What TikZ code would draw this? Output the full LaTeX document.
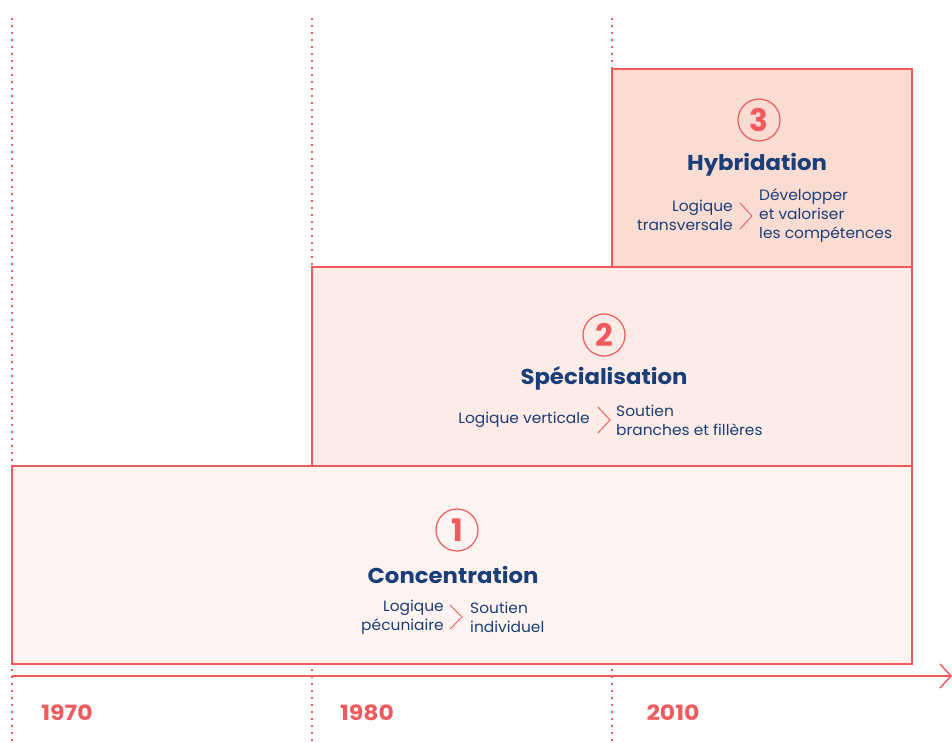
\documentclass[tikz,border=0pt]{standalone}
\usepackage{fontspec}
\setmainfont{Poppins}
\newfontfamily\wideA[FakeStretch=1.06]{Poppins}
\newfontfamily\wideS[FakeStretch=1.03]{Poppins}
\newfontfamily\wideB[FakeStretch=1.12]{Poppins}
\definecolor{red1}{HTML}{EE5A5E}
\definecolor{blue1}{HTML}{1A3E78}
\definecolor{fill1}{HTML}{FFF4F2}
\definecolor{fill2}{HTML}{FDEBE7}
\definecolor{fill3}{HTML}{FADCD3}
\begin{document}
\begin{tikzpicture}[x=1pt,y=-1pt,
  dotline/.style={draw=red1, line width=1.8pt, dash pattern=on 1.8pt off 5.2pt},
  stagebox/.style={draw=red1, line width=1.6pt, anchor=north west, inner sep=0pt, outer sep=0pt},
  num/.style={circle, draw=red1, line width=1.2pt, minimum size=42pt, inner sep=0pt, text=red1, font=\fontsize{31}{31}\selectfont\bfseries},
  ttl/.style={text=blue1, font=\wideA\fontsize{21.5}{24}\selectfont\bfseries},
  sub/.style={text=blue1, font=\wideS\fontsize{15}{19}\selectfont, inner sep=0pt},
  yr/.style={text=red1, font=\wideB\fontsize{21}{22}\selectfont\bfseries},
  chev/.style={draw=red1, line width=0.9pt}
]
\useasboundingbox (0,0) rectangle (952,743);
% dotted year guides
\coordinate (g1a) at (12,18);  \coordinate (g1b) at (12,743);
\coordinate (g2a) at (312,18); \coordinate (g2b) at (312,743);
\coordinate (g3a) at (612,18); \coordinate (g3b) at (612,743);
\draw[dotline] (g1a) -- (g1b);
\draw[dotline] (g2a) -- (g2b);
\draw[dotline] (g3a) -- (g3b);
% stage boxes
\node[stagebox, fill=fill1, minimum width=900pt, minimum height=198pt] (b1) at (12,466) {};
\node[stagebox, fill=fill2, minimum width=600pt, minimum height=199pt] (b2) at (312,267) {};
\node[stagebox, fill=fill3, minimum width=300pt, minimum height=198pt] (b3) at (612,69) {};
% axis
\coordinate (ax0) at (12,676);
\coordinate (ax1) at (951,676);
\draw[red1, line width=2.2pt] (ax0) -- (ax1);
\draw[red1, line width=1.5pt] (ax1) ++(-11,-12) -- (ax1) -- ++(-11,12);
% years
\node[yr] (y1) at (67,713) {1970};
\node[yr] (y2) at (367,713) {1980};
\node[yr] (y3) at (673,713) {2010};
% stage 1
\node[num] (c1) at (457,530) {1};
\node[ttl] (t1) at (453,575) {Concentration};
\node[sub, align=right, anchor=east] (l1) at (444,617) {Logique\\pécuniaire};
\node[sub, align=left, anchor=west] (r1) at (470,617) {Soutien\\individuel};
\coordinate (k1) at (462,617);
\draw[chev] (k1) ++(-12,-12) -- (k1) -- ++(-12,12);
% stage 2
\node[num] (c2) at (604,335) {2};
\node[ttl] (t2) at (604,378) {Spécialisation};
\node[sub, align=right, anchor=east] (l2) at (590,420) {Logique verticale};
\node[sub, align=left, anchor=west] (r2) at (616,420) {Soutien\\branches et fillères};
\coordinate (k2) at (610,420);
\draw[chev] (k2) ++(-12,-13) -- (k2) -- ++(-12,13);
% stage 3
\node[num] (c3) at (759,120) {3};
\node[ttl] (t3) at (757,165) {Hybridation};
\node[sub, align=right, anchor=east] (l3) at (733,215) {Logique\\transversale};
\node[sub, align=left, anchor=west] (r3) at (759,216) {Développer\\et valoriser\\les compétences};
\coordinate (k3) at (752,216);
\draw[chev] (k3) ++(-12,-13) -- (k3) -- ++(-12,13);
\end{tikzpicture}
\end{document}
